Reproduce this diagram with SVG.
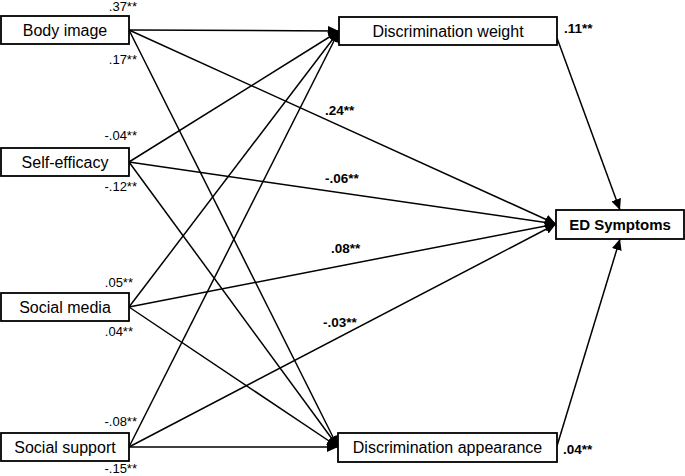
<svg xmlns="http://www.w3.org/2000/svg" width="685" height="476" viewBox="0 0 685 476">
<style>
.box{fill:#fff;stroke:#000;stroke-width:1.8}
.lbl{font-family:"Liberation Sans",Arial,sans-serif;font-size:16px;fill:#000;text-anchor:middle}
.b{font-weight:bold;font-size:15px}
.c{font-family:"Liberation Sans",Arial,sans-serif;font-size:13px;fill:#000}
.cb{font-family:"Liberation Sans",Arial,sans-serif;font-size:13.5px;font-weight:bold;fill:#000}
.e{stroke:#000;stroke-width:1.5;fill:none;marker-end:url(#ah)}
</style>
<defs>
<marker id="ah" markerUnits="userSpaceOnUse" markerWidth="12" markerHeight="10" refX="11" refY="5" orient="auto">
<path d="M0,0 L11,5 L0,10 z" fill="#000"/>
</marker>
</defs>
<rect width="685" height="476" fill="#fff"/>
<g id="connectors">
<line class="e" x1="129" y1="30" x2="339" y2="31"/>
<line class="e" x1="129" y1="30" x2="338" y2="447"/>
<line class="e" x1="129" y1="30" x2="556" y2="224"/>
<line class="e" x1="129" y1="162" x2="339" y2="31"/>
<line class="e" x1="129" y1="162" x2="338" y2="447"/>
<line class="e" x1="129" y1="162" x2="556" y2="224"/>
<line class="e" x1="129" y1="307" x2="339" y2="31"/>
<line class="e" x1="129" y1="307" x2="338" y2="447"/>
<line class="e" x1="129" y1="307" x2="556" y2="224"/>
<line class="e" x1="129" y1="447" x2="339" y2="31"/>
<line class="e" x1="129" y1="447" x2="338" y2="447"/>
<line class="e" x1="129" y1="447" x2="556" y2="224"/>
<line class="e" x1="557" y1="38" x2="620" y2="210"/>
<line class="e" x1="557" y1="446" x2="620" y2="239"/>
<text class="c" x="137" y="11" text-anchor="end">.37**</text>
<text class="c" x="137" y="64" text-anchor="end">.17**</text>
<text class="c" x="137" y="140" text-anchor="end">-.04**</text>
<text class="c" x="137" y="191" text-anchor="end">-.12**</text>
<text class="c" x="133" y="287" text-anchor="end">.05**</text>
<text class="c" x="133" y="336" text-anchor="end">.04**</text>
<text class="c" x="137" y="426" text-anchor="end">-.08**</text>
<text class="c" x="137" y="473" text-anchor="end">-.15**</text>
<text class="cb" x="325" y="115">.24**</text>
<text class="cb" x="325" y="183">-.06**</text>
<text class="cb" x="331" y="253">.08**</text>
<text class="cb" x="323" y="327">-.03**</text>
<text class="cb" x="564" y="33">.11**</text>
<text class="cb" x="563" y="454">.04**</text>
</g>
<g id="body-image"><rect class="box" x="1" y="16" width="128" height="28"/><text class="lbl" x="65" y="35.5">Body image</text></g>
<g id="self-efficacy"><rect class="box" x="1" y="148" width="128" height="28"/><text class="lbl" x="65" y="167.5">Self-efficacy</text></g>
<g id="social-media"><rect class="box" x="1" y="293" width="128" height="28"/><text class="lbl" x="65" y="312.5">Social media</text></g>
<g id="social-support"><rect class="box" x="1" y="433" width="128" height="28"/><text class="lbl" x="65" y="452.5">Social support</text></g>
<g id="discrimination-weight"><rect class="box" x="339" y="17" width="218" height="28"/><text class="lbl" x="448" y="36.5">Discrimination weight</text></g>
<g id="discrimination-appearance"><rect class="box" x="338" y="433" width="219" height="29"/><text class="lbl" x="447.5" y="453">Discrimination appearance</text></g>
<g id="ed-symptoms"><rect class="box" x="556" y="210" width="128" height="29"/><text class="lbl b" x="620" y="230">ED Symptoms</text></g>
</svg>
